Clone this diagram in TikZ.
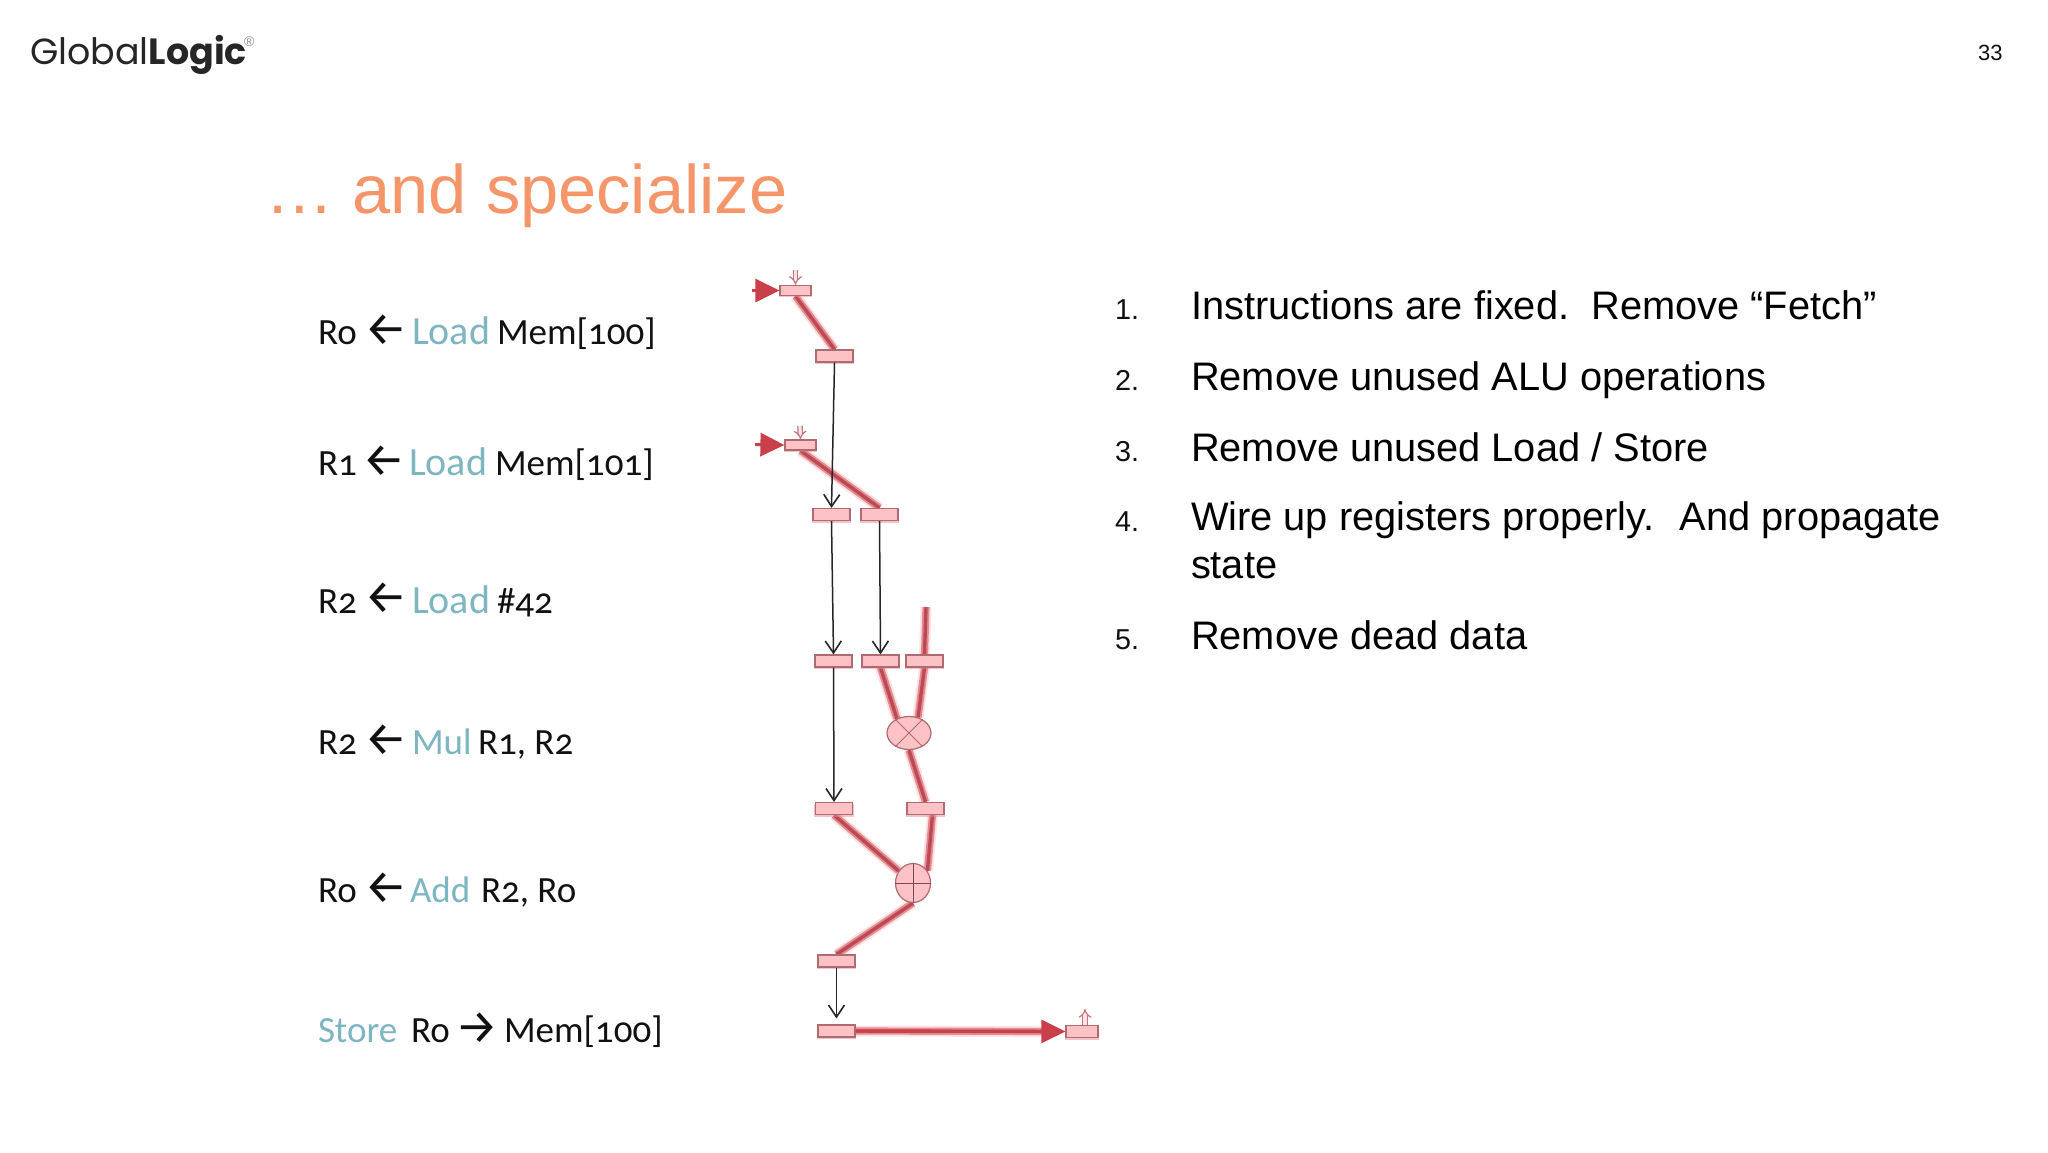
\documentclass[tikz,border=0pt]{standalone}
\usepackage{fontspec}
\usepackage{graphicx}
\usetikzlibrary{arrows.meta,shapes.geometric,shadows}
\setmainfont{Liberation Sans}
\newfontfamily\corfont[Numbers=OldStyle]{Carlito}
\newfontfamily\arrfont{Fira Sans}
\newfontfamily\logofont{Poppins}
\definecolor{wirecore}{HTML}{BC4A54}
\definecolor{wireedge}{HTML}{E58A91}
\definecolor{wireglow}{HTML}{FBE3E4}
\definecolor{headred}{HTML}{C9404A}
\definecolor{boxfill}{HTML}{FCC2C6}
\definecolor{boxline}{HTML}{B06A72}
\definecolor{titlecol}{HTML}{F4956A}
\definecolor{teal}{HTML}{7DB5C0}
\definecolor{ink}{HTML}{111111}
\pgfdeclarelayer{bg}
\pgfsetlayers{bg,main}
\newcommand{\larr}{←}
\newcommand{\rarr}{→}
\tikzset{
  x=0.5pt,y=-0.5pt,
  txt/.style={anchor=base west,inner sep=0pt,outer sep=0pt},
  instr/.style={txt,font=\corfont\fontsize{18.5}{22}\selectfont,text=ink},
  opname/.style={instr,text=teal},
  loadname/.style={instr,text=teal,font=\corfont\fontsize{20}{22}\selectfont},
  arrowglyph/.style={instr,font=\arrfont\fontsize{24}{26}\selectfont},
  regbox/.style={rectangle,draw=boxline,line width=0.6pt,fill=boxfill,minimum width=18.5pt,minimum height=6pt,inner sep=0pt,
    drop shadow={shadow xshift=0pt,shadow yshift=-0.7pt,shadow scale=1.08,fill=wireedge,opacity=0.5}},
  memreg/.style={regbox,minimum width=15.5pt,minimum height=5pt},
  alu/.style={ellipse,draw=boxline,line width=0.6pt,fill=boxfill,inner sep=0pt},
  wire/.style={draw=wirecore,line width=1.7pt,preaction={draw=wireglow,line width=5.5pt},preaction={draw=wireedge,line width=3.6pt}},
  bigarrow/.style={draw=headred,line width=1.5pt,-{Triangle[length=12pt,width=11.5pt]}},
  flow/.style={draw=black!85,line width=0.75pt,-{Straight Barb[length=6pt,width=8pt,line width=0.8pt]}},
  smallarrow/.style={draw=wireedge!85!black,double=wireglow,line width=0.6pt,double distance=1.6pt,-Implies},
  listnum/.style={txt,font=\fontsize{14.4}{16}\selectfont,text=ink},
  listtxt/.style={txt,font=\fontsize{19.9}{23.7}\selectfont,text=black,align=left},
}
\begin{document}
\begin{tikzpicture}
\useasboundingbox (0,0) rectangle (2048,1152);
\begin{pgfonlayer}{bg}
\fill[white] (0,0) rectangle (2048,1152);
\end{pgfonlayer}

% header
\node[txt,font=\logofont\fontsize{18.2}{20}\selectfont,text=black!85] (logo) at (30,64) {Global\textbf{Logic}};
\node[txt,font=\fontsize{7}{8}\selectfont,text=black!45] (logor) at (244,46) {®};
\node[txt,font=\fontsize{11}{12}\selectfont,text=ink] (pagenum) at (1978,60) {33};
\node[txt,font=\fontsize{34.3}{38}\selectfont,text=titlecol] (title) at (265,213) {… and specialize};

% instruction listing
\node[instr] (a1) at (318,344) {Ro};
\node[arrowglyph] (a2) at (364,345) {\larr};
\node[loadname] (a3) at (412,344) {Load};
\node[instr] (a4) at (497,344) {Mem[100]};

\node[instr] (b1) at (318,475) {R1};
\node[arrowglyph] (b2) at (362,476) {\larr};
\node[loadname] (b3) at (409,475) {Load};
\node[instr] (b4) at (495,475) {Mem[101]};

\node[instr] (c1) at (318,613) {R2};
\node[arrowglyph] (c2) at (364,613) {\larr};
\node[loadname] (c3) at (412,613) {Load};
\node[instr] (c4) at (497,613) {\#42};

\node[instr] (d1) at (318,754) {R2};
\node[arrowglyph] (d2) at (364,755) {\larr};
\node[opname] (d3) at (412,754) {Mul};
\node[instr] (d4) at (478,754) {R1, R2};

\node[instr] (e1) at (318,902) {Ro};
\node[arrowglyph] (e2) at (364,903) {\larr};
\node[opname] (e3) at (410,902) {Add};
\node[instr] (e4) at (481,902) {R2, Ro};

\node[opname] (f1) at (318,1042) {Store};
\node[instr] (f2) at (411,1042) {Ro};
\node[arrowglyph] (f3) at (455,1043) {\rarr};
\node[instr] (f4) at (504,1042) {Mem[100]};

% datapath
\node[memreg] (r1) at (795.5,290.5) {};
\node[regbox] (r2) at (834.5,356) {};
\node[memreg] (r3) at (800.5,445) {};
\node[regbox] (r4) at (831.5,514.5) {};
\node[regbox] (r5) at (879.5,514.5) {};
\node[regbox] (r6) at (833.5,661) {};
\node[regbox] (r7) at (880.5,661) {};
\node[regbox] (r8) at (924.5,661) {};
\node[alu,minimum width=22pt,minimum height=16.5pt] (mul) at (909,733) {};
\node[regbox] (r9) at (834,808.5) {};
\node[regbox] (r10) at (925.5,808.5) {};
\node[alu,minimum width=17.5pt,minimum height=19.5pt] (add) at (913,883) {};
\node[regbox] (r11) at (836.5,961) {};
\node[regbox] (r12) at (836.5,1031) {};
\node[memreg,minimum width=16pt,minimum height=6pt] (r13) at (1082,1031.5) {};

\coordinate (in1) at (752,290.5);
\coordinate (in2) at (755,444.5);
\coordinate (imm) at (926,607);
\coordinate (m1) at (795.5,270);
\coordinate (m2) at (800,426);
\coordinate (m3) at (1085,1009);

\begin{pgfonlayer}{bg}
  \draw[wire] (r1.south) -- (r2.north);
  \draw[wire] (r3.south) -- (r5.north);
  \draw[wire] (imm) -- (r8.north);
  \draw[wire] (r8.south) -- (mul.60);
  \draw[wire] (r7.south) -- (mul.130);
  \draw[wire] (mul.south) -- (r10.north);
  \draw[wire] (r9.south) -- (add.140);
  \draw[wire] ([xshift=3.5pt]r10.south) -- (add.40);
  \draw[wire] (add.south) -- (r11.north);
  \draw[wire,shorten >=10pt] (r12.east) -- (r13.west);
  \draw[smallarrow] (m1) -- (r1.north);
  \draw[smallarrow] (m2) -- (r3.north);
  \draw[smallarrow] ([xshift=1.5pt]r13.north) -- (m3);
\end{pgfonlayer}

\draw[bigarrow] (in1) -- (r1.west);
\draw[bigarrow] (in2) -- (r3.west);
\draw[bigarrow] (r12.east) -- (r13.west);

\draw[boxline,line width=0.5pt] (mul.45) -- (mul.225) (mul.135) -- (mul.315);
\draw[boxline!70!black,line width=0.5pt] (add.north) -- (add.south) (add.west) -- (add.east);

\draw[flow] (r2.south) -- (r4.north);
\draw[flow] (r4.south) -- (r6.north);
\draw[flow] (r5.south) -- (r7.north);
\draw[flow] (r6.south) -- (r9.north);
\draw[flow,shorten >=3pt] (r11.south) -- (r12.north);

% list
\node[listnum] (n1) at (1115,319) {1.};
\node[listtxt] (t1) at (1191,319.5) {Instructions are fixed.\ \ Remove “Fetch”};
\node[listnum] (n2) at (1115,390) {2.};
\node[listtxt] (t2) at (1191,390) {Remove unused ALU operations};
\node[listnum] (n3) at (1115,461) {3.};
\node[listtxt] (t3) at (1191,461) {Remove unused Load / Store};
\node[listnum] (n4) at (1115,531) {4.};
\node[listtxt] (t4) at (1191,578) {Wire up registers properly.\ \ \hspace{1.5pt}And propagate\\state};
\node[listnum] (n5) at (1115,649) {5.};
\node[listtxt] (t5) at (1191,649) {Remove dead data};
\end{tikzpicture}
\end{document}
